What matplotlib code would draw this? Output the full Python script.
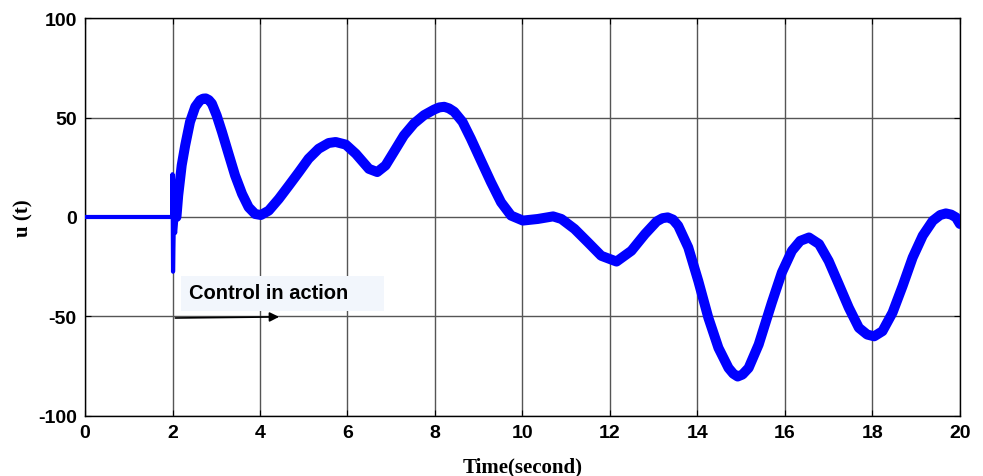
import numpy as np
import matplotlib.pyplot as plt
from matplotlib.patches import Rectangle

plt.rcParams['axes.unicode_minus'] = False

# u(t) before control switches on, incl. the switching spike (thin trace)
t_pre = [0.0, 1.0, 1.998, 2.0, 2.012, 2.03, 2.06, 2.09]
u_pre = [0, 0, 0, 21.5, -27.5, -3, -8, 0]

# u(t) with control in action (thick chattering band)
t_ctrl = [2.09, 2.13, 2.21, 2.29, 2.40, 2.52, 2.63, 2.70, 2.76, 2.83, 2.90,
          3.01, 3.13, 3.28, 3.43, 3.59, 3.74, 3.89, 4.02, 4.20, 4.43, 4.66,
          4.89, 5.11, 5.34, 5.57, 5.73, 5.96, 6.19, 6.49, 6.68, 6.87, 7.06,
          7.29, 7.52, 7.75, 7.98, 8.10, 8.21, 8.32, 8.44, 8.63, 8.82, 9.05,
          9.28, 9.51, 9.74, 10.01, 10.35, 10.70, 10.89, 11.19, 11.50, 11.80,
          12.15, 12.49, 12.80, 13.07, 13.20, 13.32, 13.44, 13.56, 13.79,
          14.02, 14.25, 14.48, 14.71, 14.82, 14.92, 15.03, 15.17, 15.40,
          15.70, 15.93, 16.16, 16.35, 16.55, 16.78, 17.00, 17.23, 17.46,
          17.69, 17.88, 18.04, 18.23, 18.46, 18.69, 18.92, 19.15, 19.38,
          19.55, 19.68, 19.80, 19.91, 20.0]
u_ctrl = [0, 10.8, 26, 36, 47.8, 55.4, 58.7, 59.5, 59.6, 58.8, 57,
          51, 42.8, 31.8, 20.9, 11.6, 4.9, 1.5, 1, 3.2, 9.1, 15.8,
          22.6, 29.3, 34.3, 37.2, 37.7, 36.4, 31.8, 24.2, 22.6, 25.9, 32.7,
          41, 47, 51.2, 54, 55.1, 55.4, 54.6, 52.9, 47.8, 39.4, 28.4,
          17.5, 7.4, 0.7, -1.8, -1, 0.3, -1, -6, -12.8, -19.5,
          -22.4, -17, -8.6, -2.2, -0.6, -0.2, -1.3, -4.4, -15.3,
          -32.2, -50.7, -65.8, -75.9, -78.8, -80.2, -79.2, -75.9, -64.1,
          -43.1, -27.9, -17, -12, -10.3, -13.6, -22.1, -33.8, -45.6,
          -55.7, -59.1, -60, -57.4, -48.1, -34.7, -20.4, -9.4, -1.9,
          1.0, 1.8, 1.2, -0.2, -3.5]

xticks = np.arange(0, 21, 2)
yticks = [-100, -50, 0, 50, 100]

fig = plt.figure(figsize=(9.83, 4.77), dpi=100)
ax = fig.add_axes([0.0865, 0.126, 0.89, 0.834])

ax.plot(t_pre, u_pre, color='#0000ff', linewidth=3, zorder=3)
ax.plot(t_ctrl, u_ctrl, color='#0000ff', linewidth=7.2, solid_joinstyle='round',
        solid_capstyle='round', zorder=3)

ax.set_xlim(0, 20)
ax.set_ylim(-100, 100)
ax.set_xticks(xticks)
ax.set_yticks(yticks)
ax.grid(True, color='#555555', linewidth=1.0)
ax.tick_params(direction='in', length=4, width=0.8, top=True, right=True,
               labelsize=14, pad=6)
for lab in ax.get_xticklabels() + ax.get_yticklabels():
    lab.set_fontweight('bold')
    lab.set_family('Liberation Sans')
for s in ax.spines.values():
    s.set_linewidth(1.0)

ax.set_xlabel('Time(second)', family='Liberation Serif', fontweight='bold',
              fontsize=15, labelpad=11)
ax.set_ylabel('u (t)', family='Liberation Serif', fontweight='bold',
              fontsize=15, labelpad=3)

# annotation box + arrow
ax.add_patch(Rectangle((2.2, -47.5), 4.63, 18.0, facecolor='#f2f6fc',
                       edgecolor='none', zorder=4))
ax.text(2.38, -38.2, 'Control in action', family='Liberation Sans',
        fontweight='bold', fontsize=14.5, va='center', ha='left', zorder=5)
ax.annotate('', xy=(4.5, -50.2), xytext=(2.0, -50.8),
            arrowprops=dict(arrowstyle='-|>', color='black', lw=1.2,
                            mutation_scale=14), zorder=5)

fig.savefig('out.png', dpi=100)
